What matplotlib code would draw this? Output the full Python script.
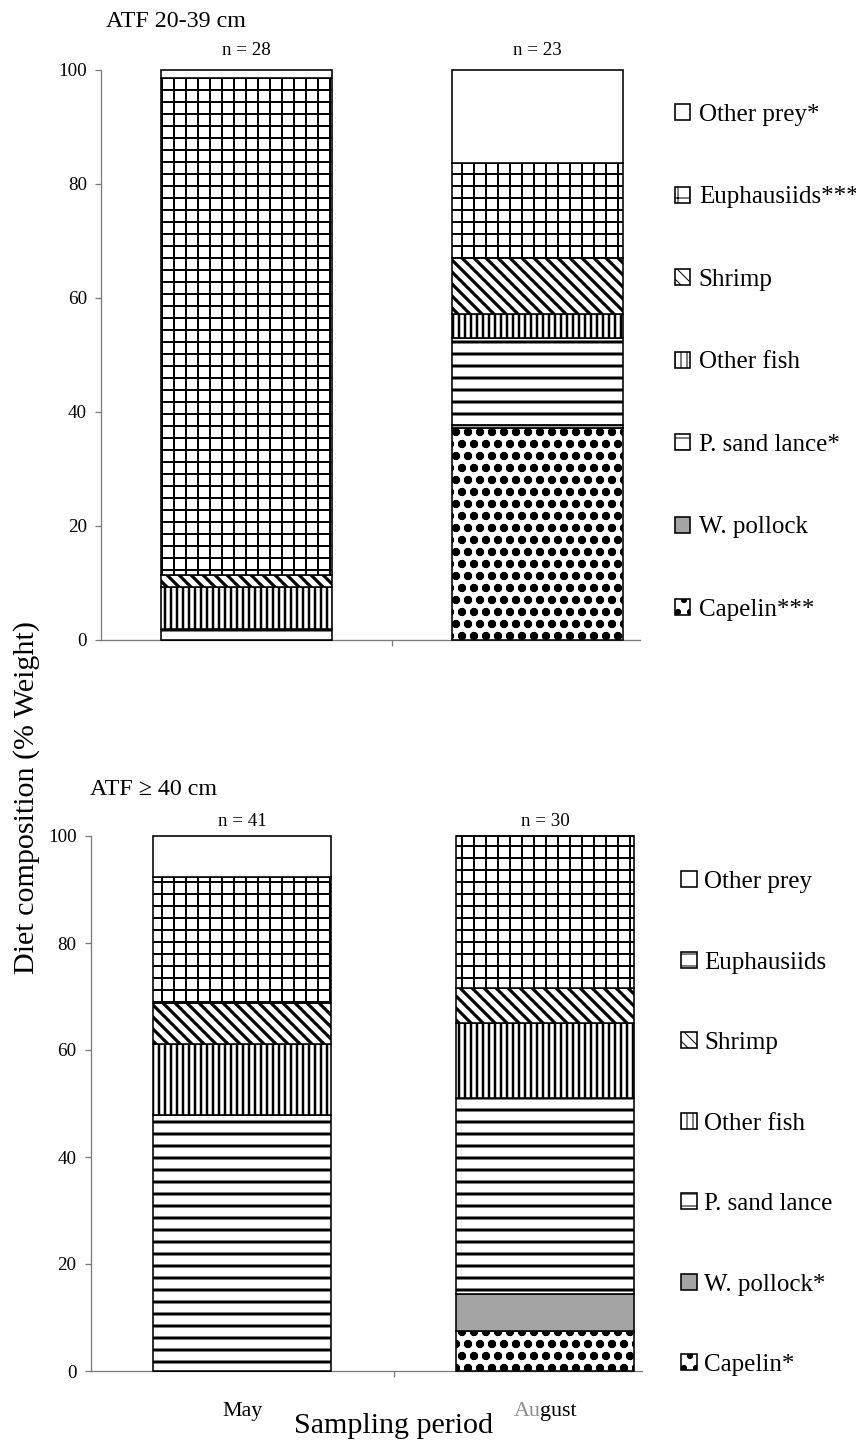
import numpy as np
import matplotlib
matplotlib.use("Agg")
import matplotlib.pyplot as plt
from matplotlib.patches import Patch

plt.rcParams['font.family'] = ['Liberation Serif', 'DejaVu Serif']

# data: % weight, stacked from bottom (Capelin) to top (Other prey)
periods = ['May', 'August']
prey = ['Capelin', 'W. pollock', 'P. sand lance', 'Other fish', 'Shrimp', 'Euphausiids', 'Other prey']

small_may = [0, 0, 2.0, 7.3, 2.1, 87.2, 1.4]
small_aug = [37.2, 0.6, 15.2, 4.2, 9.8, 16.7, 16.3]
large_may = [0, 0, 47.9, 13.2, 7.7, 23.5, 7.7]
large_aug = [7.5, 6.9, 36.6, 14.0, 6.6, 28.4, 0]

small_n = [28, 23]
large_n = [41, 30]

small_labels = ['Capelin***', 'W. pollock', 'P. sand lance*', 'Other fish', 'Shrimp', 'Euphausiids***', 'Other prey*']
large_labels = ['Capelin*', 'W. pollock*', 'P. sand lance', 'Other fish', 'Shrimp', 'Euphausiids', 'Other prey']

# fill styles per prey
hatches = ['o.', '', '-', '||', '\\\\', '+', '']
hatch_lw = [3.4, 1.0, 3.0, 2.5, 3.2, 2.0, 1.0]
faces = ['white', '#a4a4a4', 'white', 'white', 'white', 'white', 'white']

W, H = 856, 1441
fig = plt.figure(figsize=(W / 72, H / 72), dpi=72)
ax1 = fig.add_axes([101 / W, 1 - 640 / H, 582 / W, 570 / H])
ax2 = fig.add_axes([90.5 / W, 1 - 1371 / H, 606 / W, 535 / H])

AXC = '#7a7a7a'


def set_hlw(patch, lw):
    if hasattr(patch, 'set_hatch_linewidth'):
        patch.set_hatch_linewidth(lw)


def draw_panel(ax, may, aug, ns, n_pad, spine_end):
    data = np.array([may, aug], dtype=float)
    x = np.arange(len(periods)) + 0.5
    bottom = np.zeros(len(periods))
    for j in range(len(prey)):
        bars = ax.bar(x, data[:, j], 0.59, bottom=bottom, color=faces[j],
                      edgecolor='black', hatch=hatches[j], linewidth=1.6,
                      clip_on=False, zorder=3)
        for b in bars:
            set_hlw(b, hatch_lw[j])
        bottom += data[:, j]
    for xi, n, top in zip(x, ns, bottom):
        ax.annotate(f'n = {n}', xy=(xi, top), xytext=(0, n_pad),
                    textcoords='offset points', ha='center', va='baseline',
                    fontsize=19, annotation_clip=False)
    ax.set_xlim(0, 2)
    ax.set_ylim(0, 100)
    ax.set_yticks(np.arange(0, 101, 20))
    ax.set_xticks([1])
    ax.set_xticklabels([])
    for s in ['top', 'right']:
        ax.spines[s].set_visible(False)
    for s in ['left', 'bottom']:
        ax.spines[s].set_color(AXC)
        ax.spines[s].set_linewidth(1.3)
    ax.spines['bottom'].set_bounds(0, spine_end)
    ax.tick_params(axis='y', length=6, width=1.3, color=AXC, labelsize=19, pad=8)
    ax.tick_params(axis='x', length=6, width=1.3, color=AXC)


def make_handles(labels):
    handles = []
    for j in range(len(prey)):
        p = Patch(facecolor=faces[j], edgecolor='black', hatch=hatches[j],
                  linewidth=1.6, label=labels[j])
        set_hlw(p, hatch_lw[j])
        handles.append(p)
    return handles[::-1]


draw_panel(ax1, small_may, small_aug, small_n, 15, 1.852)
draw_panel(ax2, large_may, large_aug, large_n, 10, 1.82)

h1 = make_handles(small_labels)
fig.legend(handles=h1, loc='upper left', bbox_to_anchor=(675 / W, 1 - 104 / H),
           frameon=False, fontsize=25, handlelength=0.6, handleheight=0.6,
           handletextpad=0.35, labelspacing=2.42, borderpad=0, borderaxespad=0)

h2 = make_handles(large_labels)
h2[1] = Patch(facecolor='white', edgecolor='black', hatch='-', linewidth=1.6, label=large_labels[5])
fig.legend(handles=h2, loc='upper left', bbox_to_anchor=(681 / W, 1 - 871 / H),
           frameon=False, fontsize=25, handlelength=0.62, handleheight=0.62,
           handletextpad=0.3, labelspacing=2.34, borderpad=0, borderaxespad=0)

# titles
fig.text(106 / W, 1 - 27 / H, 'ATF 20-39 cm', fontsize=24, va='baseline', ha='left')
fig.text(90 / W, 1 - 795 / H, 'ATF \u2265 40 cm', fontsize=24, va='baseline', ha='left')

# axis labels
fig.text(27 / W, 1 - 797 / H, 'Diet composition (% Weight)', rotation=90,
         ha='center', va='center', fontsize=30)
fig.text(394 / W, 1 - 1433 / H, 'Sampling period', ha='center', va='baseline', fontsize=30)

# period labels under the lower chart
ax2.annotate(periods[0], xy=(0.5, 0), xycoords=('data', 'axes fraction'),
             xytext=(0, -45), textcoords='offset points', ha='center',
             va='baseline', fontsize=22, annotation_clip=False)
au = ax2.annotate(periods[1][:2], xy=(1.5, 0), xycoords=('data', 'axes fraction'),
                  xytext=(-4.8, -45), textcoords='offset points', ha='right',
                  va='baseline', fontsize=22, color='#8c8c8c', annotation_clip=False)
ax2.annotate(periods[1][2:], xy=(1, 0), xycoords=au, ha='left', va='bottom',
             fontsize=22, annotation_clip=False)

fig.savefig('out.png', dpi=72)
